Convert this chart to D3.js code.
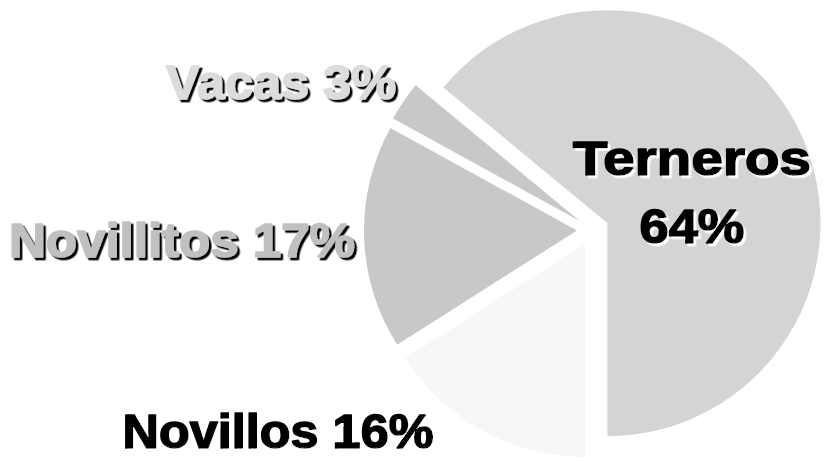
<!DOCTYPE html>
<meta charset="utf-8">
<html>
<head>
<title>Ganado</title>
<style>
  body { margin: 0; background: #fff; }
  .lbl { font-family: "Liberation Sans", Arial, sans-serif; font-weight: bold; font-size: 48px; stroke-width: 1.6px; stroke-linejoin: round; }
</style>
</head>
<body>
<div id="chart"></div>
<script src="https://d3js.org/d3.v7.min.js"></script>
<script>
  // data
  var categories = ["Terneros", "Novillos", "Novillitos", "Vacas"];
  var shares = [64, 16, 17, 3];
  var sliceColors = ["#d4d4d4", "#f7f7f7", "#c8c8c8", "#c8c8c8"];

  var width = 825, height = 461;
  var cx = 593, cy = 230, radius = 213, explode = 16;

  var svg = d3.select("#chart").append("svg")
      .attr("width", width)
      .attr("height", height);

  // drop shadows for the labels (black one and white one)
  var defs = svg.append("defs");
  [["shadowDark", "#000"], ["shadowLight", "#fff"]].forEach(function (s) {
    defs.append("filter")
        .attr("id", s[0])
        .attr("x", "-5%").attr("y", "-20%").attr("width", "115%").attr("height", "150%")
      .append("feDropShadow")
        .attr("dx", 2.5).attr("dy", 2.5)
        .attr("stdDeviation", 0)
        .attr("flood-color", s[1])
        .attr("flood-opacity", 1);
  });

  var data = categories.map(function (c, i) { return { name: c, value: shares[i], color: sliceColors[i] }; });

  // terneros ends pointing straight down
  var start = Math.PI - shares[0] / 100 * 2 * Math.PI;
  var pie = d3.pie().value(function (d) { return d.value; }).sort(null)
      .startAngle(start).endAngle(start + 2 * Math.PI);
  var arc = d3.arc().innerRadius(0).outerRadius(radius);

  var g = svg.append("g").attr("transform", "translate(" + cx + "," + cy + ")");

  g.selectAll("path")
    .data(pie(data))
    .enter()
    .append("path")
      .attr("d", arc)
      .attr("fill", function (d) { return d.data.color; })
      .attr("transform", function (d) {
        var a = (d.startAngle + d.endAngle) / 2;
        return "translate(" + (Math.sin(a) * explode) + "," + (-Math.cos(a) * explode) + ")";
      });

  // labels, placed like the original
  var labels = [
    { lines: ["Terneros", "64%"], x: 692, y: [175, 243], w: [238, 105], fill: "#000", shadow: "shadowLight" },
    { lines: ["Novillos 16%"], x: 278, y: [448], w: [311], fill: "#000", shadow: "shadowLight" },
    { lines: ["Novillitos 17%"], x: 182, y: [257], w: [346], fill: "#c0c0c0", shadow: "shadowDark" },
    { lines: ["Vacas 3%"], x: 281, y: [99], w: [230], fill: "#dcdcdc", shadow: "shadowDark" }
  ];

  labels.forEach(function (l) {
    var t = svg.append("text")
        .attr("class", "lbl")
        .attr("text-anchor", "middle")
        .attr("fill", l.fill)
        .attr("stroke", l.fill)
        .attr("filter", "url(#" + l.shadow + ")");
    l.lines.forEach(function (s, i) {
      t.append("tspan")
        .attr("x", l.x)
        .attr("y", l.y[i])
        .attr("textLength", l.w[i])
        .attr("lengthAdjust", "spacingAndGlyphs")
        .text(s);
    });
  });
</script>
</body>
</html>
